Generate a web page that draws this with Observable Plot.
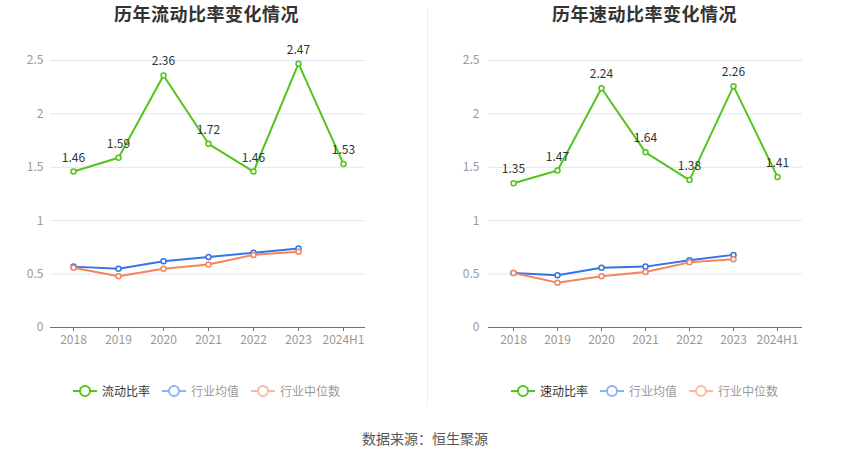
<!DOCTYPE html>
<html>
<head>
<meta charset="utf-8">
<script src="https://cdn.jsdelivr.net/npm/d3@7"></script>
<script src="https://cdn.jsdelivr.net/npm/@observablehq/plot@0.6"></script>
<style>
  html, body { margin: 0; padding: 0; background: #fff; }
  body { width: 850px; height: 459px; position: relative; overflow: hidden;
         font-family: "Noto Sans CJK SC", "Noto Sans", sans-serif; }
  .title { position: absolute; top: 1px; width: 425px; text-align: center;
           font-size: 18px; font-weight: bold; color: #333; line-height: 24px; letter-spacing: 0.5px; }
  .plot { position: absolute; top: 30px; width: 425px; }
  .legend { position: absolute; top: 382px; width: 425px; display: flex; justify-content: center;
            font-size: 12px; line-height: 18px; }
  .item { display: flex; align-items: center; margin: 0 6px; }
  .item svg { margin-right: 5px; }
  .divider { position: absolute; left: 427px; top: 8px; width: 1px; height: 398px; background: #eeeeee; }
  .caption { position: absolute; top: 428px; width: 850px; text-align: center; font-size: 14px; color: #555; line-height: 20px; }
</style>
</head>
<body>
<div id="root"></div>
<script>
const years = ["2018", "2019", "2020", "2021", "2022", "2023", "2024H1"];
const industryYears = ["2018", "2019", "2020", "2021", "2022", "2023"];

const currentRatio = [1.46, 1.59, 2.36, 1.72, 1.46, 2.47, 1.53];
const currentMean = [0.57, 0.55, 0.62, 0.66, 0.70, 0.74];
const currentMedian = [0.56, 0.48, 0.55, 0.59, 0.68, 0.71];

const quickRatio = [1.35, 1.47, 2.24, 1.64, 1.38, 2.26, 1.41];
const quickMean = [0.51, 0.49, 0.56, 0.57, 0.63, 0.68];
const quickMedian = [0.51, 0.42, 0.48, 0.52, 0.61, 0.64];

const yTicks = [0, 0.5, 1, 1.5, 2, 2.5];

const GREEN = "#52c41a";
const BLUE = "#3574e8";
const ORANGE = "#f5845a";
const BLUE_L = "#91b1f5";
const ORANGE_L = "#fcb9a1";

const font = '"Noto Sans CJK SC", "Noto Sans", sans-serif';

function rows(cats, vals) { return cats.map((c, i) => ({x: c, y: vals[i]})); }

function chart(main, mean, median, mLeft, mRight, pad) {
  const dMain = rows(years, main), dMean = rows(industryYears, mean), dMed = rows(industryYears, median);
  return Plot.plot({
    width: 425, height: 330,
    marginLeft: mLeft, marginRight: mRight, marginTop: 30, marginBottom: 33,
    style: {fontFamily: font, fontSize: "12px", background: "transparent"},
    x: {type: "point", domain: years, padding: 0.5, label: null},
    y: {domain: [0, 2.5], label: null},
    marks: [
      Plot.gridY(yTicks, {stroke: "#e0e6f1", strokeOpacity: 1}),
      Plot.axisY(yTicks, {tickSize: 0, tickPadding: pad, fill: "#999", tickFormat: d => String(d)}),
      Plot.axisX({tickSize: 4, tickPadding: 4, fill: "#999", stroke: "#6e7079"}),
      Plot.ruleY([0], {stroke: "#6e7079"}),
      Plot.line(dMean, {x: "x", y: "y", stroke: BLUE, strokeWidth: 2}),
      Plot.dot(dMean, {x: "x", y: "y", r: 2.5, stroke: BLUE, fill: "#fff", strokeWidth: 1.5}),
      Plot.line(dMed, {x: "x", y: "y", stroke: ORANGE, strokeWidth: 2}),
      Plot.dot(dMed, {x: "x", y: "y", r: 2.5, stroke: ORANGE, fill: "#fff", strokeWidth: 1.5}),
      Plot.line(dMain, {x: "x", y: "y", stroke: GREEN, strokeWidth: 2}),
      Plot.dot(dMain, {x: "x", y: "y", r: 2.5, stroke: GREEN, fill: "#fff", strokeWidth: 1.5}),
      Plot.text(dMain, {x: "x", y: "y", text: d => d.y.toFixed(2), dy: -10, lineAnchor: "bottom", fill: "#333", fontSize: 12})
    ]
  });
}

function legendIcon(color) {
  return `<svg width="24" height="14"><line x1="0" y1="7" x2="24" y2="7" stroke="${color}" stroke-width="2"/><circle cx="12" cy="7" r="5" fill="#fff" stroke="${color}" stroke-width="2"/></svg>`;
}

function panel(left, shift, title, main, mean, median, mLeft, mRight, pad, mainName) {
  const root = document.getElementById("root");
  const t = document.createElement("div");
  t.className = "title"; t.style.left = (left + shift) + "px"; t.textContent = title;
  root.appendChild(t);
  const p = document.createElement("div");
  p.className = "plot"; p.style.left = left + "px";
  p.appendChild(chart(main, mean, median, mLeft, mRight, pad));
  root.appendChild(p);
  const lg = document.createElement("div");
  lg.className = "legend"; lg.style.left = (left + shift) + "px";
  const items = [[mainName, GREEN, "#333"], ["行业均值", BLUE_L, "#999"], ["行业中位数", ORANGE_L, "#999"]];
  lg.innerHTML = items.map(([n, c, tc]) => `<div class="item">${legendIcon(c)}<span style="color:${tc}">${n}</span></div>`).join("");
  root.appendChild(lg);
}

panel(0, -6, "历年流动比率变化情况", currentRatio, currentMean, currentMedian, 50, 60, 7, "流动比率");
panel(425, 7, "历年速动比率变化情况", quickRatio, quickMean, quickMedian, 63, 48, 9, "速动比率");

const dv = document.createElement("div"); dv.className = "divider";
document.getElementById("root").appendChild(dv);
const cap = document.createElement("div"); cap.className = "caption"; cap.textContent = "数据来源：恒生聚源";
document.getElementById("root").appendChild(cap);
</script>
</body>
</html>
